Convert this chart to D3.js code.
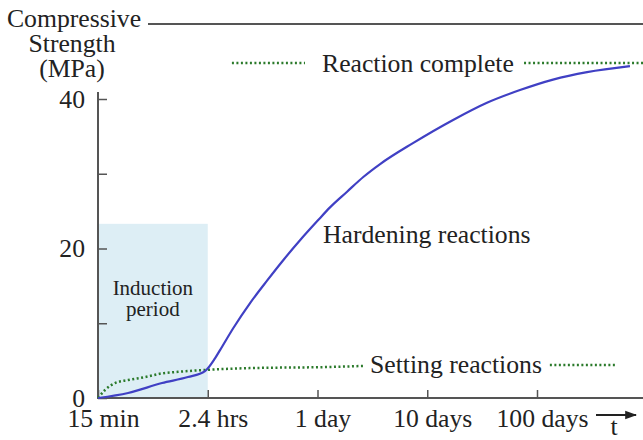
<!DOCTYPE html>
<html>
<head>
<meta charset="utf-8">
<title>Compressive strength vs time</title>
<script src="https://d3js.org/d3.v7.min.js"></script>
<style>
body { margin: 0; background: #fff; }
svg { display: block; }
text { font-family: "Liberation Serif", "Times New Roman", serif; fill: #222; }
</style>
</head>
<body>
<script>
// time in days (log axis), strength in MPa
var hardenDays = [0.01, 0.0188, 0.0383, 0.066, 0.0944, 0.1164, 0.1294, 0.170, 0.243, 0.347, 0.485, 0.693, 1.0, 1.30, 1.86, 2.63, 3.72, 7.41, 17.2, 35.0, 70.0, 140, 286, 703];
var hardenMPa  = [0, 0.67, 2.0, 2.8, 3.6, 5.3, 6.4, 9.3, 12.7, 15.7, 18.4, 21.1, 23.7, 25.5, 27.6, 29.6, 31.3, 34.1, 37.2, 39.5, 41.2, 42.6, 43.6, 44.4];

var settingDays = [0.01, 0.0116, 0.0143, 0.0188, 0.0268, 0.0383, 0.0536, 0.0944, 0.243, 1.30, 2.71];
var settingMPa  = [0, 1.07, 2.0, 2.4, 2.8, 3.3, 3.5, 3.75, 4.0, 4.15, 4.3];
var settingTail = [131, 514];   // dotted leader after the label
var settingTailMPa = 4.4;

var completeLeftDays = [0.166, 0.769];
var completeRightDays = [76.2, 925];
var completeMPa = 44.8;

var inductionDays = [0.01, 0.1];
var inductionTop = 23.3;

var xTickDays = [0.01, 0.1, 1, 10, 100];
var xTickLabels = ["15 min", "2.4 hrs", "1 day", "10 days", "100 days"];
var yTicks = [0, 10, 20, 30, 40];
var yTickLabels = ["0", "", "20", "", "40"];

var width = 643, height = 440;
var fs = "25.7px";
var axisColor = "#555";
var blue = "#4040c4";
var green = "#2b7a2b";

var x = d3.scaleLog().domain([0.01, 100]).range([98, 537]);
var y = d3.scaleLinear().domain([0, 40]).range([398, 99]);

var svg = d3.select("body").append("svg")
  .attr("width", width)
  .attr("height", height);

// induction period shading
svg.append("rect")
  .attr("x", x(inductionDays[0]) + 1)
  .attr("y", y(inductionTop))
  .attr("width", x(inductionDays[1]) - x(inductionDays[0]) - 1)
  .attr("height", y(0) - y(inductionTop))
  .attr("fill", "#ddeef5");

svg.append("text")
  .attr("x", (x(inductionDays[0]) + x(inductionDays[1])) / 2)
  .attr("y", 295)
  .attr("text-anchor", "middle")
  .style("font-size", "21px")
  .text("Induction");
svg.append("text")
  .attr("x", (x(inductionDays[0]) + x(inductionDays[1])) / 2)
  .attr("y", 316)
  .attr("text-anchor", "middle")
  .style("font-size", "21px")
  .text("period");

// top rule
svg.append("line")
  .attr("x1", 148).attr("x2", width)
  .attr("y1", 24).attr("y2", 24)
  .attr("stroke", axisColor).attr("stroke-width", 2);

// y axis title
var ttl = svg.append("text").attr("text-anchor", "middle").style("font-size", fs);
ttl.append("tspan").attr("x", 74).attr("y", 27).text("Compressive");
ttl.append("tspan").attr("x", 72).attr("y", 52).text("Strength");
ttl.append("tspan").attr("x", 72).attr("y", 77).text("(MPa)");

// axes
var yAxis = d3.axisLeft(y)
  .tickValues(yTicks)
  .tickFormat(function(d, i) { return yTickLabels[i]; })
  .tickSizeInner(-9)
  .tickSizeOuter(0)
  .tickPadding(13);

var gy = svg.append("g").attr("transform", "translate(" + x(0.01) + ",0)").call(yAxis);
gy.select(".domain").remove();
gy.selectAll(".tick line").attr("stroke", axisColor).attr("stroke-width", 1.5);
gy.selectAll(".tick text").style("font-size", fs).attr("fill", "#222").attr("font-family", null);

var xAxis = d3.axisBottom(x)
  .tickValues(xTickDays)
  .tickFormat(function(d, i) { return xTickLabels[i]; })
  .tickSizeInner(-8)
  .tickSizeOuter(0)
  .tickPadding(11);

var gx = svg.append("g").attr("transform", "translate(0," + y(0) + ")").call(xAxis);
gx.select(".domain").remove();
gx.selectAll(".tick line").attr("stroke", axisColor).attr("stroke-width", 1.5);
gx.selectAll(".tick text").style("font-size", fs).attr("fill", "#222").attr("font-family", null)
  .attr("dx", 5);

// axis lines
svg.append("line")
  .attr("x1", x(0.01)).attr("x2", x(0.01))
  .attr("y1", y(40) - 7).attr("y2", y(0) + 1)
  .attr("stroke", axisColor).attr("stroke-width", 2);
svg.append("line")
  .attr("x1", x(0.01) - 1).attr("x2", width)
  .attr("y1", y(0)).attr("y2", y(0))
  .attr("stroke", axisColor).attr("stroke-width", 2);

// time arrow
svg.append("defs").append("marker")
  .attr("id", "arrow")
  .attr("viewBox", "0 0 10 10")
  .attr("refX", 9).attr("refY", 5)
  .attr("markerWidth", 6).attr("markerHeight", 6)
  .attr("orient", "auto")
  .append("path")
  .attr("d", "M0,1.5 L10,5 L0,8.5 Z")
  .attr("fill", "#222");
svg.append("line")
  .attr("x1", 596).attr("x2", 636)
  .attr("y1", 415).attr("y2", 415)
  .attr("stroke", "#222").attr("stroke-width", 2)
  .attr("marker-end", "url(#arrow)");
svg.append("text")
  .attr("x", 614).attr("y", 435)
  .attr("text-anchor", "middle")
  .style("font-size", fs)
  .text("t");

var line = d3.line()
  .x(function(d) { return x(d[0]); })
  .y(function(d) { return y(d[1]); })
  .curve(d3.curveMonotoneX);

// setting reactions (dotted green)
svg.append("path")
  .datum(settingDays.map(function(d, i) { return [d, settingMPa[i]]; }))
  .attr("d", line)
  .attr("fill", "none")
  .attr("stroke", green)
  .attr("stroke-width", 2.5)
  .attr("stroke-dasharray", "2,2.5");

svg.append("line")
  .attr("x1", x(settingTail[0])).attr("x2", x(settingTail[1]))
  .attr("y1", y(settingTailMPa)).attr("y2", y(settingTailMPa))
  .attr("stroke", green).attr("stroke-width", 2.5)
  .attr("stroke-dasharray", "2,2.5");

[completeLeftDays, completeRightDays].forEach(function(seg) {
  svg.append("line")
    .attr("x1", x(seg[0])).attr("x2", x(seg[1]))
    .attr("y1", y(completeMPa)).attr("y2", y(completeMPa))
    .attr("stroke", green).attr("stroke-width", 2.5)
    .attr("stroke-dasharray", "2,2.5");
});

// hardening reactions (blue)
svg.append("path")
  .datum(hardenDays.map(function(d, i) { return [d, hardenMPa[i]]; }))
  .attr("d", line)
  .attr("fill", "none")
  .attr("stroke", blue)
  .attr("stroke-width", 2.2);

// labels
svg.append("text").attr("x", 322).attr("y", 72).style("font-size", fs).text("Reaction complete");
svg.append("text").attr("x", 323).attr("y", 243).style("font-size", fs).text("Hardening reactions");
svg.append("text").attr("x", 370).attr("y", 373).style("font-size", fs).text("Setting reactions");
</script>
</body>
</html>
